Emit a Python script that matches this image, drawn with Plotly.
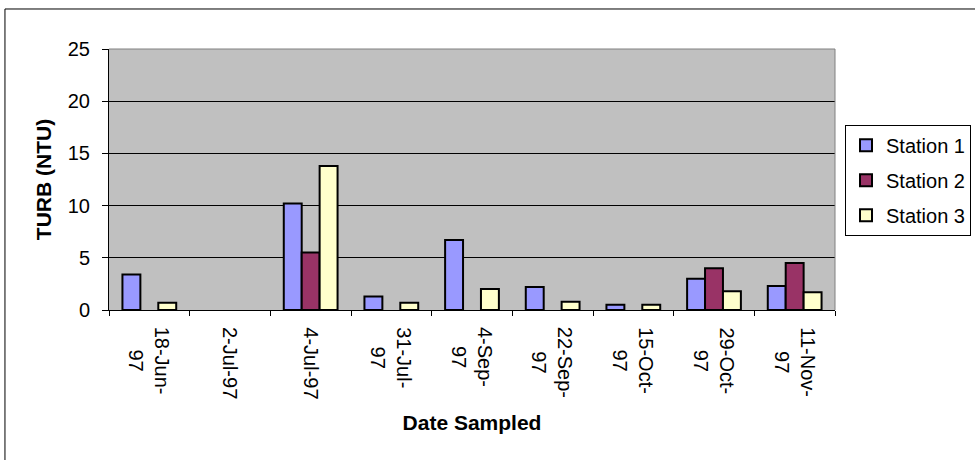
import plotly.graph_objects as go

# ---- data ----
dates = ["18-Jun-97", "2-Jul-97", "4-Jul-97", "31-Jul-97", "4-Sep-97",
         "22-Sep-97", "15-Oct-97", "29-Oct-97", "11-Nov-97"]
tick_labels = ["18-Jun-<br>97", "2-Jul-97", "4-Jul-97", "31-Jul-<br>97", "4-Sep-<br>97",
               "22-Sep-<br>97", "15-Oct-<br>97", "29-Oct-<br>97", "11-Nov-<br>97"]
station1 = [3.4, None, 10.2, 1.3, 6.7, 2.2, 0.5, 3.0, 2.3]
station2 = [None, None, 5.5, None, None, None, None, 4.0, 4.5]
station3 = [0.7, None, 13.8, 0.7, 2.0, 0.8, 0.5, 1.8, 1.7]
series_names = ["Station 1", "Station 2", "Station 3"]
y_ticks = [0, 5, 10, 15, 20, 25]

FONT = "Liberation Sans, Arial, sans-serif"
colors = ["#9999FF", "#993366", "#FFFFCC"]

fig = go.Figure()
for i, (name, vals) in enumerate(zip(series_names, [station1, station2, station3])):
    fig.add_trace(go.Bar(
        x=dates, y=vals, name=name, legendgroup=name,
        marker=dict(color=colors[i], line=dict(color="black", width=2)),
    ))

annotations = []
for d, lab in zip(dates, tick_labels):
    annotations.append(dict(
        x=d, xref="x", y=0, yref="paper", yanchor="top", xanchor="center",
        yshift=-15, text=lab, textangle=90, showarrow=False, align="center",
        font=dict(family=FONT, size=20, color="black"),
    ))

fig.update_layout(
    width=975, height=460,
    margin=dict(l=109, r=140, t=49, b=150, autoexpand=False),
    paper_bgcolor="white", plot_bgcolor="#C0C0C0",
    barmode="group", bargap=1/3, bargroupgap=0,
    font=dict(family=FONT, size=20, color="black"),
    showlegend=True,
    legend=dict(x=1.0138, y=0.71, xanchor="left", yanchor="top",
                bordercolor="black", borderwidth=1, bgcolor="white",
                font=dict(family=FONT, size=20, color="black"),
                tracegroupgap=6, itemwidth=30),
    annotations=annotations,
    shapes=[
        # outer chart border
        dict(type="rect", xref="paper", yref="paper", x0=-0.1433, x1=1.3, y0=-0.7, y1=1.1533,
             line=dict(color="black", width=1), fillcolor="rgba(0,0,0,0)", layer="above"),
        # plot area top and right border (gray)
        dict(type="line", xref="paper", yref="paper", x0=0, x1=1, y0=1, y1=1,
             line=dict(color="#808080", width=1), layer="above"),
        dict(type="line", xref="paper", yref="paper", x0=1, x1=1, y0=0, y1=1,
             line=dict(color="#808080", width=1), layer="above"),
    ],
)

fig.update_xaxes(
    type="category", showticklabels=False, tickson="boundaries",
    ticks="outside", ticklen=5, tickcolor="black", tickwidth=1,
    showline=True, linecolor="black", linewidth=1, showgrid=False,
    title=dict(text="<b>Date Sampled</b>", font=dict(family=FONT, size=21, color="black"),
               standoff=105),
)
fig.update_yaxes(
    range=[0, 25], tickvals=y_ticks, ticktext=[str(v) for v in y_ticks],
    ticks="outside", ticklen=6, tickcolor="black", tickwidth=1,
    showline=True, linecolor="black", linewidth=1,
    showgrid=True, gridcolor="black", gridwidth=1, zeroline=False,
    ticklabelstandoff=8,
    tickfont=dict(family=FONT, size=20, color="black"),
    title=dict(text="<b>TURB (NTU)</b>", font=dict(family=FONT, size=21, color="black"),
               standoff=10),
)

fig.write_html("out.html", config={"displayModeBar": False},
               post_script="document.body.style.margin='0px';")
